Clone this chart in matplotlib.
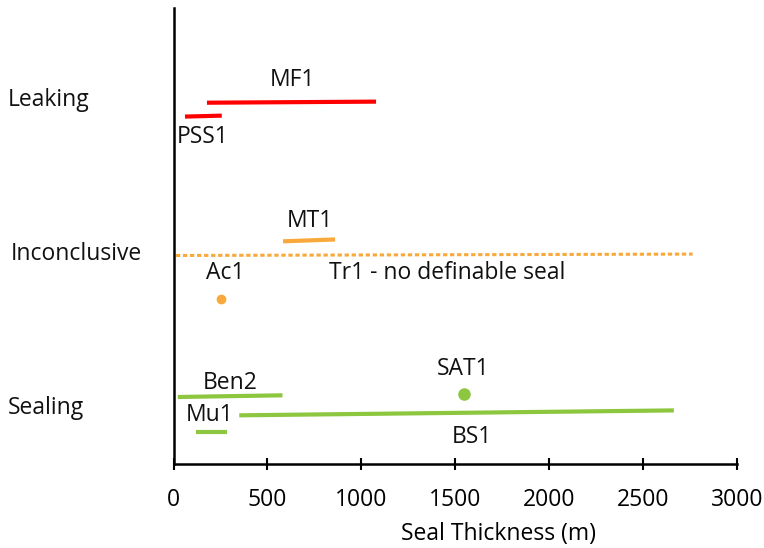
import matplotlib
matplotlib.use("Agg")
import matplotlib.pyplot as plt
import matplotlib.transforms as mtransforms

plt.rcParams['font.family'] = ['Open Sans', 'DejaVu Sans']

# category rows (y level of each class)
categories = ["Leaking", "Inconclusive", "Sealing"]
cat_y = [3.0, 2.0, 1.0]

# seal thickness ranges (m): start, end, and y levels at each end
red_names = ["MF1", "PSS1"]
red_x = [[178, 1078], [61, 257]]
red_y = [[2.969, 2.976], [2.879, 2.885]]

orange_names = ["MT1"]
orange_x = [[583, 860]]
orange_y = [[2.069, 2.081]]

tr1_x = [13, 2763]
tr1_y = [1.977, 1.986]

ac1_x = [251]
ac1_y = [1.697]

green_names = ["Ben2", "BS1", "Mu1"]
green_x = [[23, 580], [350, 2663], [122, 285]]
green_y = [[1.058, 1.069], [0.939, 0.971], [0.831, 0.831]]

sat1_x = [1548]
sat1_y = [1.078]

# label anchor points
label_pos = {
    "MF1": (631, 3.118), "PSS1": (157, 2.748), "MT1": (727, 2.198),
    "Ac1": (274, 1.865), "Tr1 - no definable seal": (1456, 1.865),
    "Ben2": (301, 1.15), "SAT1": (1541, 1.241), "Mu1": (194, 0.943),
    "BS1": (1590, 0.80),
}

red = "#ff0000"
orange = "#f9a93b"
green = "#8dc63f"
fs = 16.5

fig = plt.figure(figsize=(7.64, 5.48), dpi=100)
ax = fig.add_axes([0.2271, 0.1533, 0.7378, 0.8321])

for xs, ys in zip(red_x, red_y):
    ax.plot(xs, ys, color=red, lw=3, solid_capstyle="butt")
for xs, ys in zip(orange_x, orange_y):
    ax.plot(xs, ys, color=orange, lw=3, solid_capstyle="butt")
ax.plot(tr1_x, tr1_y, color=orange, lw=2.2, linestyle=(0, (1.4, 0.9)),
        dash_capstyle="butt")
ax.plot(ac1_x, ac1_y, "o", color=orange, ms=6)
for xs, ys in zip(green_x, green_y):
    ax.plot(xs, ys, color=green, lw=3, solid_capstyle="butt")
ax.plot(sat1_x, sat1_y, "o", color=green, ms=8)

for txt, (x, y) in label_pos.items():
    ax.text(x, y, txt, ha="center", va="center", fontsize=fs, color="#111111")

trans = mtransforms.blended_transform_factory(fig.transFigure, ax.transData)
cat_x = [8 / 764, 11 / 764, 8 / 764]
for name, y, x in zip(categories, cat_y, cat_x):
    ax.text(x, y - 0.012, name, transform=trans, ha="left", va="center",
            fontsize=fs, color="#111111")

ax.set_xlim(0, 3000)
ax.set_ylim(0.623, 3.584)
ax.set_xticks(range(0, 3001, 500))
ax.set_yticks([])
ax.tick_params(axis="x", direction="inout", length=8, width=1.5,
               labelsize=fs, pad=13)
for s in ["top", "right"]:
    ax.spines[s].set_visible(False)
ax.spines["left"].set_linewidth(1.8)
ax.spines["bottom"].set_linewidth(1.8)
ax.set_xlabel("Seal Thickness (m)", fontsize=fs)
ax.xaxis.set_label_coords(0.576, -0.128)

fig.savefig("out.png", dpi=100)
